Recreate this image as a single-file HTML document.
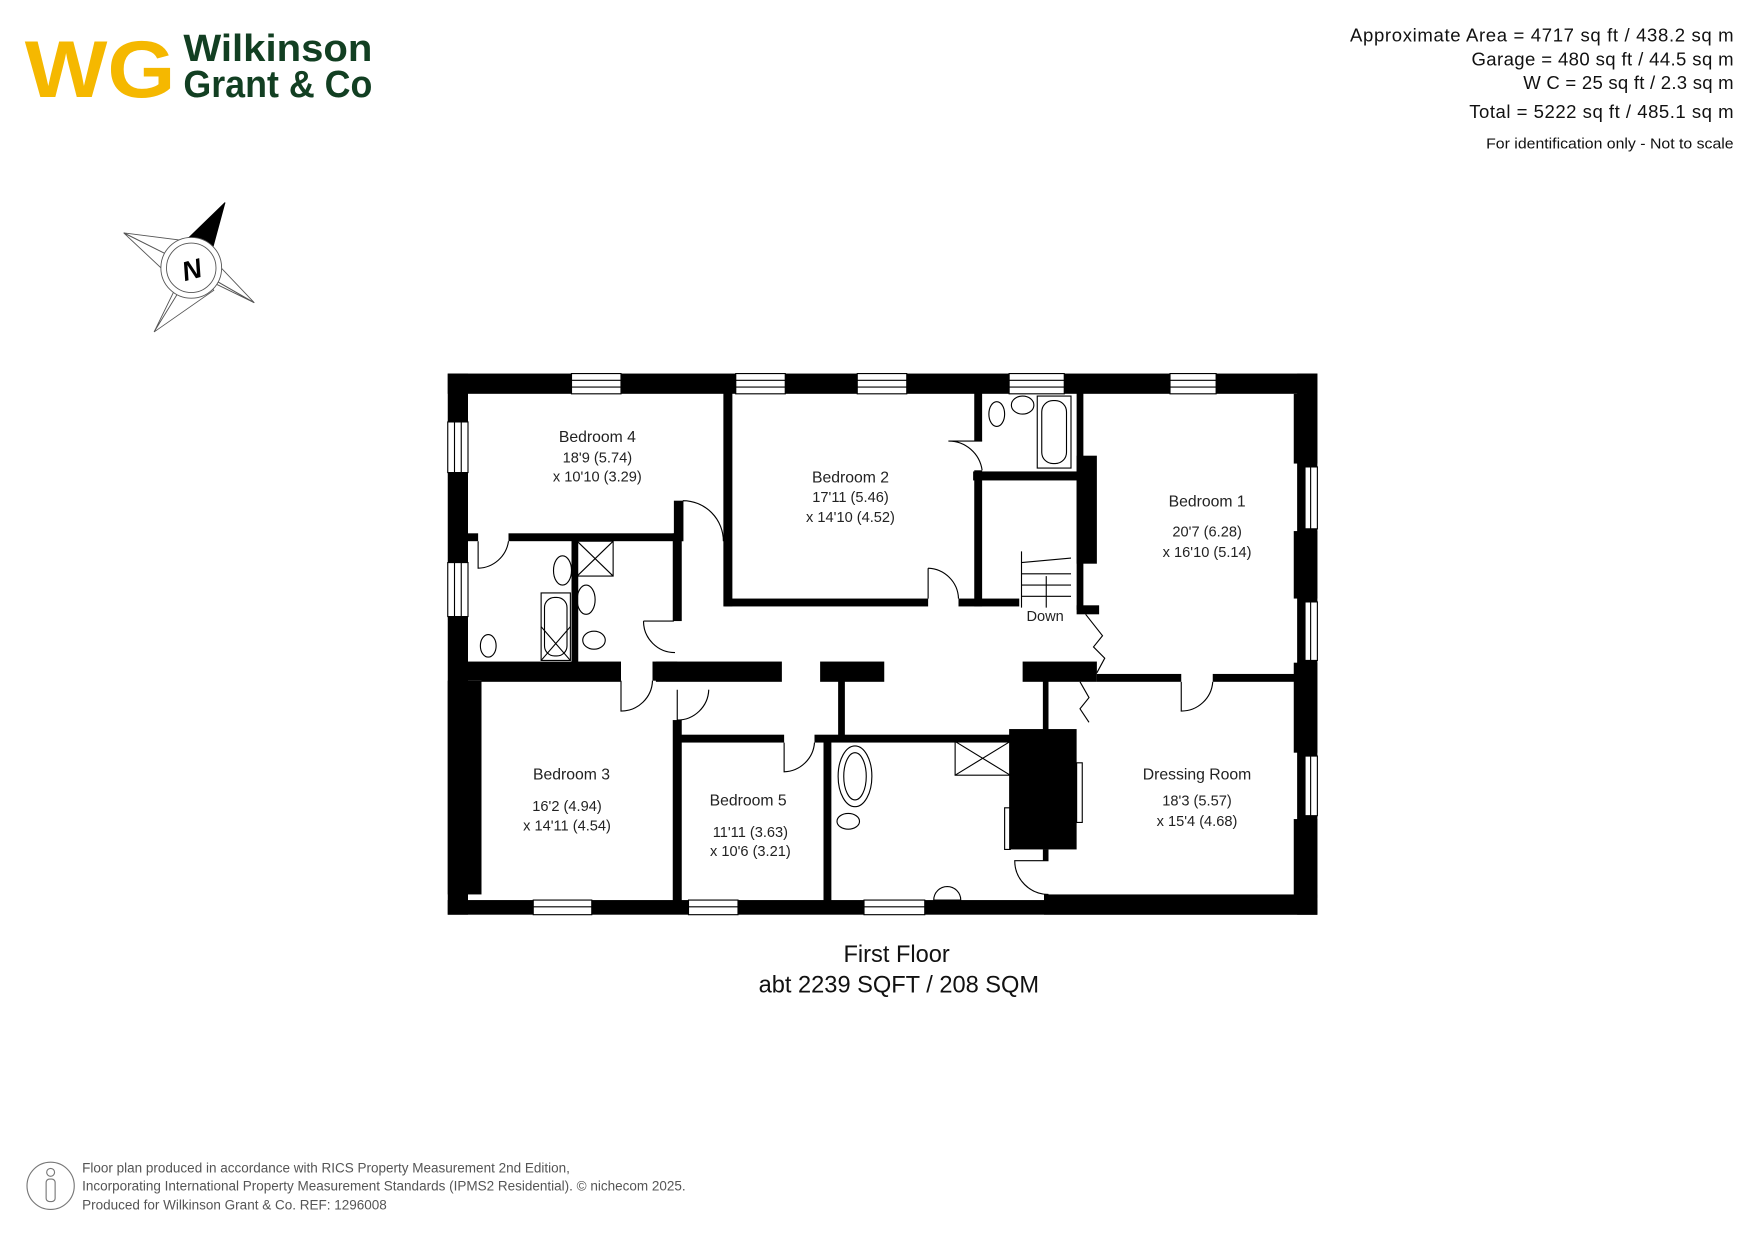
<!DOCTYPE html>
<html><head><meta charset="utf-8"><style>
html,body{margin:0;padding:0;background:#fff;}
svg{display:block;}
text{font-family:"Liberation Sans",sans-serif;}
</style></head><body>
<svg width="1755" height="1241" viewBox="0 0 1560 1103" xmlns="http://www.w3.org/2000/svg">
<rect width="1560" height="1103" fill="#fff"/>
<!-- Logo -->
<text x="22" y="86" font-size="72" font-weight="bold" fill="#f5b800" textLength="134" lengthAdjust="spacingAndGlyphs">WG</text>
<text x="163" y="54" font-size="34" font-weight="bold" fill="#123f22" textLength="168" lengthAdjust="spacingAndGlyphs">Wilkinson</text>
<text x="163" y="86" font-size="34" font-weight="bold" fill="#123f22" textLength="168" lengthAdjust="spacingAndGlyphs">Grant &amp; Co</text>
<!-- Header text -->
<g font-size="16.5" fill="#111" text-anchor="end">
<text x="1541" y="37" textLength="341" lengthAdjust="spacing">Approximate Area = 4717 sq ft / 438.2 sq m</text>
<text x="1541" y="58" textLength="233" lengthAdjust="spacing">Garage = 480 sq ft / 44.5 sq m</text>
<text x="1541" y="79" textLength="187" lengthAdjust="spacing">W C = 25 sq ft / 2.3 sq m</text>
<text x="1541" y="105" textLength="235" lengthAdjust="spacing">Total = 5222 sq ft / 485.1 sq m</text>
<text x="1541" y="132" font-size="13.5" textLength="220" lengthAdjust="spacingAndGlyphs">For identification only - Not to scale</text>
</g>
<!-- Compass -->
<g stroke="#555" stroke-width="0.8" fill="#fff">
<polygon points="110,207 165,214 172,238"/>
<polygon points="226,269 183,248 172,238"/>
<polygon points="137,295 158,252 172,238"/>
<polygon points="110,207 158,252 172,238"/>
<polygon points="226,269 187,228 172,238"/>
<polygon points="137,295 190,258 172,238"/>
<polygon points="200,180 165,214 172,238" fill="#000" stroke="#000"/>
<polygon points="200,180 187,228 172,238" fill="#000" stroke="#000"/>
<circle cx="170" cy="238" r="27" fill="#fff"/>
<circle cx="170" cy="238" r="22" fill="#fff"/>
</g>
<text x="170" y="248" font-size="24" font-weight="bold" font-style="italic" text-anchor="middle" fill="#000" transform="rotate(-15 170 238)">N</text>

<!-- FLOOR PLAN -->
<g fill="#000">
<rect x="398" y="332" width="773" height="18"/>
<rect x="398" y="332" width="18" height="481"/>
<rect x="398" y="800" width="773" height="13"/>
<rect x="1153" y="332" width="18" height="481"/>
<rect x="398" y="605" width="30" height="190"/>
<rect x="928" y="795" width="243" height="18"/>
<rect x="416" y="474" width="9" height="7"/>
<rect x="452" y="474" width="154" height="7"/>
<rect x="599" y="445" width="8" height="36"/>
<rect x="643" y="342" width="8" height="197"/>
<rect x="598" y="474" width="8" height="78"/>
<rect x="508" y="480" width="6" height="110"/>
<rect x="416" y="588" width="136" height="17"/>
<rect x="580" y="588" width="22" height="17"/>
<rect x="583" y="588" width="112" height="18"/>
<rect x="729" y="588" width="57" height="18"/>
<rect x="909" y="588" width="66" height="18"/>
<rect x="428" y="600" width="124" height="6"/>
<rect x="598" y="640" width="8" height="165"/>
<rect x="603" y="653" width="94" height="7"/>
<rect x="724" y="653" width="175" height="7"/>
<rect x="745" y="604" width="6" height="52"/>
<rect x="732" y="655" width="7" height="148"/>
<rect x="897" y="648" width="60" height="107"/>
<rect x="927" y="604" width="5" height="46"/>
<rect x="927" y="755" width="5" height="10"/>
<rect x="975" y="599" width="75" height="7"/>
<rect x="1078" y="599" width="78" height="7"/>
<rect x="957" y="405" width="18" height="96"/>
<rect x="957" y="342" width="6" height="200"/>
<rect x="957" y="538" width="20" height="8"/>
<rect x="865" y="419" width="94" height="8"/>
<rect x="866" y="342" width="7" height="50"/>
<rect x="866" y="418" width="7" height="121"/>
<rect x="644" y="532" width="181" height="7"/>
<rect x="852" y="532" width="54" height="7"/>
<rect x="1150" y="350" width="21" height="62"/>
<rect x="1150" y="472" width="21" height="60"/>
<rect x="1150" y="589" width="21" height="80"/>
<rect x="1150" y="728" width="21" height="70"/>
</g>
<g fill="#fff" stroke="#000" stroke-width="1">
<rect x="508" y="332" width="44" height="18"/><rect x="654" y="332" width="44" height="18"/>
<rect x="762" y="332" width="44" height="18"/><rect x="897" y="332" width="49" height="18"/>
<rect x="1040" y="332" width="41" height="18"/>
<rect x="398" y="375" width="18" height="45"/><rect x="398" y="500" width="18" height="48"/>
<rect x="1160" y="415" width="11" height="55"/><rect x="1160" y="535" width="11" height="52"/>
<rect x="1160" y="672" width="11" height="53"/>
<rect x="474" y="800" width="52" height="13"/><rect x="612" y="800" width="44" height="13"/>
<rect x="768" y="800" width="54" height="13"/>
</g>
<g stroke="#000" stroke-width="1">
<path d="M508 338H552M508 344H552M654 338H698M654 344H698M762 338H806M762 344H806M897 338H946M897 344H946M1040 338H1081M1040 344H1081"/>
<path d="M404 375V420M410 375V420M404 500V548M410 500V548M1165 415V470M1165 535V587M1165 672V725"/>
<path d="M474 806H526M612 806H656M768 806H822"/>
</g>
<g fill="none" stroke="#000" stroke-width="1">
<path d="M607 445 L607 481 M607 445 A36 36 0 0 1 643 481"/>
<path d="M425 481 V505 A28 28 0 0 0 452 481"/>
<path d="M599 552 L572 552 M572 552 A28 28 0 0 0 600 580"/>
<path d="M552 605 V632 A28 28 0 0 0 580 605"/>
<path d="M602 613 V640 A28 28 0 0 0 630 613"/>
<path d="M697 660 V686 A28 28 0 0 0 724 660"/>
<path d="M825 505 V532 M825 505 A28 28 0 0 1 852 532"/>
<path d="M873 392 H843 A30 30 0 0 1 873 418"/>
<path d="M1050 606 V632 A28 28 0 0 0 1078 606"/>
<path d="M932 765 H902 A30 30 0 0 0 932 795"/>
<path d="M965 546 L980 565 L972 575 L982 585 L975 598"/>
<path d="M960 606 L968 620 L960 630 L968 642"/>
<path d="M908 490 V540 M908 500 L952 496 M908 510 H952 M908 520 H952 M908 530 H952 M930 540 V512"/>
<rect x="922" y="352" width="30" height="64"/><rect x="926" y="356" width="22" height="56" rx="10"/>
<ellipse cx="886" cy="368" rx="7" ry="11"/><ellipse cx="909" cy="360" rx="10" ry="8"/>
<rect x="513" y="481" width="32" height="31"/><path d="M513 481 L545 512 M545 481 L513 512"/>
<rect x="481" y="527" width="26" height="60"/><rect x="484" y="531" width="20" height="52" rx="9"/>
<path d="M481 587 L507 557 M481 557 L507 587"/>
<ellipse cx="500" cy="507" rx="8" ry="13"/><ellipse cx="521" cy="533" rx="8" ry="13"/>
<ellipse cx="528" cy="569" rx="10" ry="8"/><ellipse cx="434" cy="574" rx="7" ry="10"/>
<rect x="849" y="659" width="49" height="30"/><path d="M849 659 L898 689 M898 659 L849 689"/>
<ellipse cx="760" cy="690" rx="15" ry="27"/><ellipse cx="760" cy="690" rx="10" ry="21"/>
<ellipse cx="754" cy="730" rx="10" ry="7"/><path d="M830 800 A12 12 0 0 1 854 800 Z"/>
<rect x="893" y="718" width="5" height="37"/><rect x="957" y="678" width="5" height="53"/>
</g>
<g font-size="14" fill="#222" text-anchor="middle">
<text x="531" y="393">Bedroom 4</text><text x="531" y="411" font-size="13">18'9 (5.74)</text><text x="531" y="428" font-size="13">x 10'10 (3.29)</text>
<text x="756" y="429">Bedroom 2</text><text x="756" y="446" font-size="13">17'11 (5.46)</text><text x="756" y="464" font-size="13">x 14'10 (4.52)</text>
<text x="1073" y="450">Bedroom 1</text><text x="1073" y="477" font-size="13">20'7 (6.28)</text><text x="1073" y="495" font-size="13">x 16'10 (5.14)</text>
<text x="929" y="552" font-size="13">Down</text>
<text x="508" y="693">Bedroom 3</text><text x="504" y="721" font-size="13">16'2 (4.94)</text><text x="504" y="738" font-size="13">x 14'11 (4.54)</text>
<text x="665" y="716">Bedroom 5</text><text x="667" y="744" font-size="13">11'11 (3.63)</text><text x="667" y="761" font-size="13">x 10'6 (3.21)</text>
<text x="1064" y="693">Dressing Room</text><text x="1064" y="716" font-size="13">18'3 (5.57)</text><text x="1064" y="734" font-size="13">x 15'4 (4.68)</text>
</g>
<text x="797" y="855" font-size="21" text-anchor="middle" fill="#111">First Floor</text>
<text x="799" y="882" font-size="21" text-anchor="middle" fill="#111">abt 2239 SQFT / 208 SQM</text>
<circle cx="45" cy="1054" r="21" fill="none" stroke="#777" stroke-width="1"/>
<circle cx="45" cy="1042" r="3.5" fill="none" stroke="#777"/>
<rect x="41" y="1048" width="8" height="20" rx="3" fill="none" stroke="#777"/>
<g font-size="12" fill="#555">
<text x="73" y="1042">Floor plan produced in accordance with RICS Property Measurement 2nd Edition,</text>
<text x="73" y="1058">Incorporating International Property Measurement Standards (IPMS2 Residential).  © nichecom   2025.</text>
<text x="73" y="1075">Produced for Wilkinson Grant &amp; Co.   REF:  1296008</text>
</g>
</svg>
</body></html>
